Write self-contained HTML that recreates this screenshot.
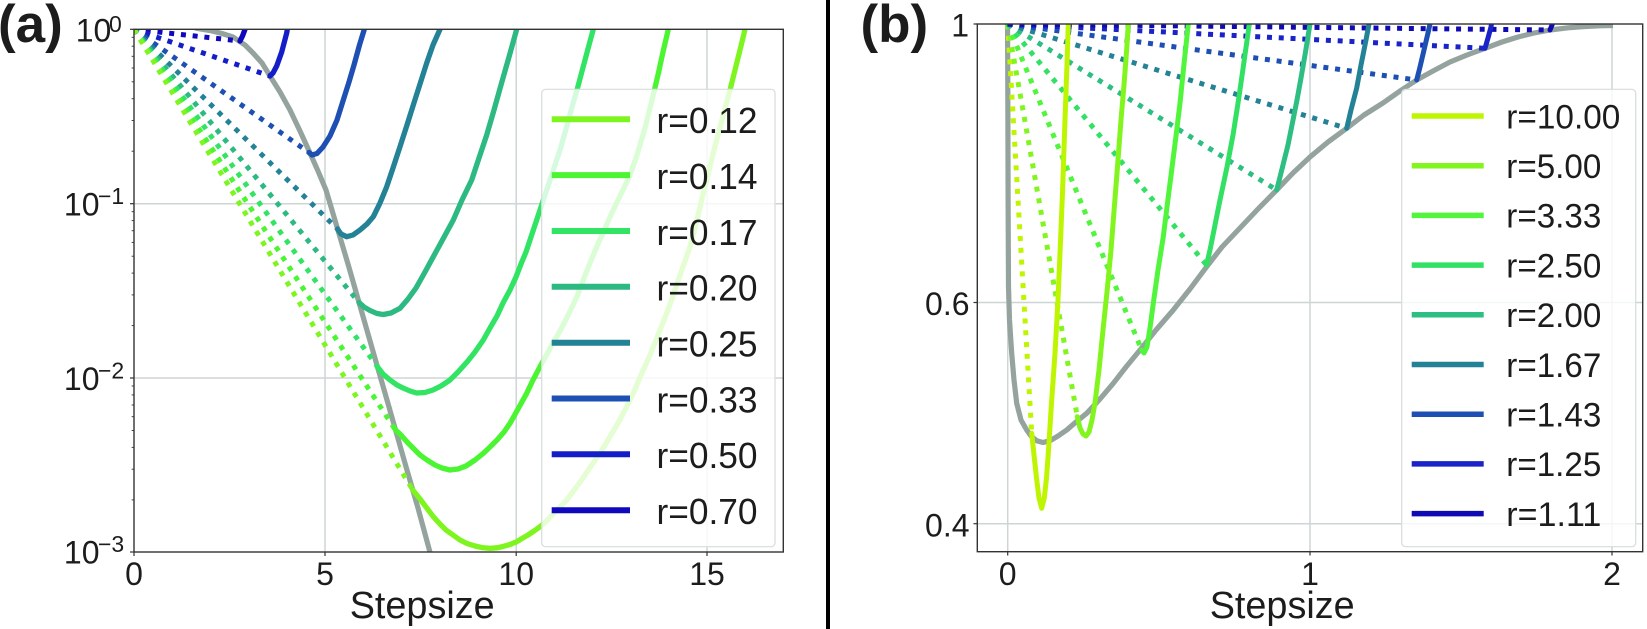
<!DOCTYPE html>
<html>
<head>
<meta charset="utf-8">
<style>
  html, body { margin: 0; padding: 0; background: #ffffff; }
  svg { display: block; }
  text { font-family: "Liberation Sans", "DejaVu Sans", sans-serif; fill: #1c1c1c; }
</style>
</head>
<body>
<svg width="1647" height="629" viewBox="0 0 1647 629" xmlns="http://www.w3.org/2000/svg">
  <defs>
    <clipPath id="clipA"><rect x="134" y="29.3" width="649.3" height="522.7"/></clipPath>
    <clipPath id="clipB"><rect x="977.3" y="24" width="665.4" height="527.7"/></clipPath>
  </defs>
  <rect x="0" y="0" width="1647" height="629" fill="#ffffff"/>

  <!-- ================= PANEL A ================= -->
  <g stroke="#cdd5d5" stroke-width="1.5" fill="none">
    <line x1="325" y1="29.3" x2="325" y2="552"/>
    <line x1="516.2" y1="29.3" x2="516.2" y2="552"/>
    <line x1="707" y1="29.3" x2="707" y2="552"/>
    <line x1="134" y1="203.7" x2="783.3" y2="203.7"/>
    <line x1="134" y1="378" x2="783.3" y2="378"/>
  </g>

  <g clip-path="url(#clipA)" fill="none" stroke-linejoin="round">
    <polyline stroke="#95a39e" stroke-width="5.2" points="195,28 210,30.5 222,33.5 233,37 245,45 253,53 262,63 270,76 280,92 290,110 300,131 310,153 318,171 326,190 337,227 348.8,266.7 358.3,300 377.4,366.7 387,400 396.5,433.3 406,466.7 418,508 431,556"/>
    <g stroke-width="5" stroke-dasharray="5 6.8">
      <line x1="134" y1="29.3" x2="240" y2="41" stroke="#0f08be"/>
      <line x1="134" y1="29.3" x2="270" y2="76" stroke="#141ec8"/>
      <line x1="134" y1="29.3" x2="309" y2="152.5" stroke="#1e50b4"/>
      <line x1="134" y1="29.3" x2="337.5" y2="229" stroke="#238296"/>
      <line x1="134" y1="29.3" x2="359" y2="302.5" stroke="#2db982"/>
      <line x1="134" y1="29.3" x2="377.4" y2="366.7" stroke="#32e464"/>
      <line x1="134" y1="29.3" x2="395.5" y2="430" stroke="#4bf532"/>
      <line x1="134" y1="29.3" x2="412.8" y2="490" stroke="#7ef51e"/>
    </g>
    <g stroke-width="5.3" stroke-linecap="round">
      <polyline stroke="#0f08be" points="240,41 242.5,36 245,29.3 246,25"/>
      <polyline stroke="#141ec8" points="270,76 273,73 276.7,66 281.7,52 286.7,33 288,25"/>
      <polyline stroke="#1e50b4" points="309,152.5 312,155 317,153.5 323,147 330,136 337,120 343.3,100 349,82 354,65 359.5,45 364.3,29.3 365.5,25"/>
      <polyline stroke="#238296" points="337.5,229 341,234 346.7,236.7 353,235 360,230 367,224 373.3,216.7 380,203 386.7,186.7 393,168 400,146.7 407,125 413.3,105 420,84 426.7,63 433,45 440,29.3 441.5,25"/>
      <polyline stroke="#2db982" points="359,302.5 364,307 370,310.5 377,313.5 383.3,314.5 391,313 400,308.3 408,299 416,288 425,272 433.3,256.7 443,239 453.3,220 462,200 471.7,180 479,158 486.7,135 494,110 501,85 509,57 516.7,29.3 518,25"/>
      <polyline stroke="#32e464" points="377.4,366.7 383,374 390,380 397,385 403,388 410,391 416.7,393 425,392.5 433,390 441,386 450,380 458,372 467,362 475,352 483.3,340 490,328 497,316 503,303 510,290 516,277 521,264 526,252 530,240 535,225 540,210 545,195 550,180 555,165 560,150 564,136 568,122 572,107 577,90 581,75 585,60 589,45 593.3,29.3 594.5,25"/>
      <polyline stroke="#4bf532" points="395.5,430 400,434 408,443 415,450 420,455 427,460 435,465 442,468 450,470 458,469 466,466 475,460 483.3,453.3 490,447 497,440 504,432 510,423.3 518,409 526.7,393.3 533,380 540,366.7 547,354 553,343 560,331 566.7,318 573,305 578,294 584,278 590,263 597,246 604,231 610,217 617,202 623,190 630,175 637,155 645,128 652,100 658,75 663,52 668.3,29.3 669.5,25"/>
      <polyline stroke="#7ef51e" points="412.8,490 416,494 420,499 426,507 433.3,516.7 440,524 446,530 453,535 460,540 467,543.5 475,546 482,547.6 490,548.3 497,547.8 503,546.5 510,544.5 516.7,541.7 522,538.5 528,535 534,531 540,526.7 546,521.5 553,514 560,507 566.7,500 575,489 583,478 591,466 600,453.3 608,440 617,425 625,410 633.3,393.3 641,375 650,355 658,335 666.7,313.3 673,296 680,275 685,261 690,246.7 695,228 700,207 703,194 706.7,180 712,158 718,135 724,112 730,90 734,74 738,58 741.5,44 745,29.3 746,25"/>
    </g>
  </g>

  <!-- legend A -->
  <rect x="541.7" y="89.3" width="233.3" height="457.4" rx="4" ry="4" fill="#ffffff" fill-opacity="0.8" stroke="#d6dddd" stroke-width="1.2"/>
  <g stroke-width="6" fill="none">
    <line x1="551.7" y1="119.3" x2="630" y2="119.3" stroke="#7ef51e"/>
    <line x1="551.7" y1="175.1" x2="630" y2="175.1" stroke="#4bf532"/>
    <line x1="551.7" y1="231" x2="630" y2="231" stroke="#32e464"/>
    <line x1="551.7" y1="286.8" x2="630" y2="286.8" stroke="#2db982"/>
    <line x1="551.7" y1="342.7" x2="630" y2="342.7" stroke="#238296"/>
    <line x1="551.7" y1="398.5" x2="630" y2="398.5" stroke="#1e50b4"/>
    <line x1="551.7" y1="454.3" x2="630" y2="454.3" stroke="#141ec8"/>
    <line x1="551.7" y1="510.2" x2="630" y2="510.2" stroke="#0f08be"/>
  </g>
  <g font-size="36">
    <text x="656.5" y="133.2" textLength="101" lengthAdjust="spacingAndGlyphs">r=0.12</text>
    <text x="656.5" y="189" textLength="101" lengthAdjust="spacingAndGlyphs">r=0.14</text>
    <text x="656.5" y="244.9" textLength="101" lengthAdjust="spacingAndGlyphs">r=0.17</text>
    <text x="656.5" y="300.7" textLength="101" lengthAdjust="spacingAndGlyphs">r=0.20</text>
    <text x="656.5" y="356.6" textLength="101" lengthAdjust="spacingAndGlyphs">r=0.25</text>
    <text x="656.5" y="412.4" textLength="101" lengthAdjust="spacingAndGlyphs">r=0.33</text>
    <text x="656.5" y="468.2" textLength="101" lengthAdjust="spacingAndGlyphs">r=0.50</text>
    <text x="656.5" y="524.1" textLength="101" lengthAdjust="spacingAndGlyphs">r=0.70</text>
  </g>

  <rect x="134" y="29.3" width="649.3" height="522.7" fill="none" stroke="#333333" stroke-width="1.4"/>
  <g stroke="#333333" stroke-width="1.2">
    <line x1="134" y1="552" x2="134" y2="556"/>
    <line x1="325" y1="552" x2="325" y2="556"/>
    <line x1="516.2" y1="552" x2="516.2" y2="556"/>
    <line x1="707" y1="552" x2="707" y2="556"/>
    <line x1="130" y1="29.3" x2="134" y2="29.3"/>
    <line x1="130" y1="203.7" x2="134" y2="203.7"/>
    <line x1="130" y1="378" x2="134" y2="378"/>
    <line x1="130" y1="552" x2="134" y2="552"/>
  </g>
  <g stroke="#333333" stroke-width="0.9">
    <line x1="131.6" y1="37.3" x2="134" y2="37.3"/><line x1="131.6" y1="46.2" x2="134" y2="46.2"/>
    <line x1="131.6" y1="56.3" x2="134" y2="56.3"/><line x1="131.6" y1="68" x2="134" y2="68"/>
    <line x1="131.6" y1="81.8" x2="134" y2="81.8"/><line x1="131.6" y1="98.7" x2="134" y2="98.7"/>
    <line x1="131.6" y1="120.5" x2="134" y2="120.5"/><line x1="131.6" y1="151.2" x2="134" y2="151.2"/>
    <line x1="131.6" y1="211.7" x2="134" y2="211.7"/><line x1="131.6" y1="220.6" x2="134" y2="220.6"/>
    <line x1="131.6" y1="230.7" x2="134" y2="230.7"/><line x1="131.6" y1="242.4" x2="134" y2="242.4"/>
    <line x1="131.6" y1="256.2" x2="134" y2="256.2"/><line x1="131.6" y1="273.1" x2="134" y2="273.1"/>
    <line x1="131.6" y1="294.9" x2="134" y2="294.9"/><line x1="131.6" y1="325.6" x2="134" y2="325.6"/>
    <line x1="131.6" y1="386" x2="134" y2="386"/><line x1="131.6" y1="394.9" x2="134" y2="394.9"/>
    <line x1="131.6" y1="405" x2="134" y2="405"/><line x1="131.6" y1="416.7" x2="134" y2="416.7"/>
    <line x1="131.6" y1="430.5" x2="134" y2="430.5"/><line x1="131.6" y1="447.4" x2="134" y2="447.4"/>
    <line x1="131.6" y1="469.2" x2="134" y2="469.2"/><line x1="131.6" y1="499.9" x2="134" y2="499.9"/>
  </g>
  <g font-size="32">
    <text x="134" y="585" text-anchor="middle">0</text>
    <text x="325" y="585" text-anchor="middle">5</text>
    <text x="516.2" y="585" text-anchor="middle">10</text>
    <text x="707" y="585" text-anchor="middle">15</text>
    <text x="111.3" y="41.5" text-anchor="end">10</text>
    <text x="99.5" y="215.7" text-anchor="end">10</text>
    <text x="99.5" y="390" text-anchor="end">10</text>
    <text x="99.5" y="563.7" text-anchor="end">10</text>
  </g>
  <g font-size="23">
    <text x="109" y="32">0</text>
    <text x="98" y="204">−1</text>
    <text x="98" y="378.3">−2</text>
    <text x="98" y="552">−3</text>
  </g>
  <text x="349.7" y="618" font-size="38" textLength="145" lengthAdjust="spacingAndGlyphs">Stepsize</text>
  <text x="-2" y="42" font-size="53" font-weight="bold" fill="#000000">(a)</text>

  <rect x="826" y="0" width="4" height="629" fill="#000000"/>

  <!-- ================= PANEL B ================= -->
  <g stroke="#cdd5d5" stroke-width="1.5" fill="none">
    <line x1="1007.7" y1="24" x2="1007.7" y2="551.7"/>
    <line x1="1310" y1="24" x2="1310" y2="551.7"/>
    <line x1="1612" y1="24" x2="1612" y2="551.7"/>
    <line x1="977.3" y1="302.5" x2="1642.7" y2="302.5"/>
    <line x1="977.3" y1="523.7" x2="1642.7" y2="523.7"/>
  </g>

  <g clip-path="url(#clipB)" fill="none" stroke-linejoin="round">
    <polyline stroke="#95a39e" stroke-width="5.2" points="1007.5,20 1007.7,60 1007.9,120 1008.1,200 1008.5,286.7 1009.5,320 1011.7,353.3 1014,380 1016.7,403.3 1021,420 1026.7,430 1031,436 1036.7,440.7 1043,442.5 1050,440.7 1058,436 1066.7,430 1076,422 1086.7,413.3 1100,399 1113.3,383.3 1126,367 1140,350 1156,330 1173.3,310 1190,289 1206.7,266.7 1222,247 1240,228 1258,209 1276.7,190 1293,173 1310,157 1328,142 1346.7,128.3 1364,115 1383,103 1400,91 1416.7,80 1433,71 1450,62 1467,55 1485,48.3 1502,42 1518,37 1534,33 1550,30 1568,27.8 1585,26.5 1600,25.8 1613,25.5"/>
    <g stroke-width="5" stroke-dasharray="5 6.8">
      <line x1="1007.7" y1="24" x2="1031.7" y2="433.3" stroke="#bef500"/>
      <line x1="1007.7" y1="24" x2="1077.3" y2="416.7" stroke="#82f51e"/>
      <line x1="1007.7" y1="24" x2="1141.7" y2="350" stroke="#50f53c"/>
      <line x1="1007.7" y1="24" x2="1206.5" y2="265" stroke="#32e164"/>
      <line x1="1007.7" y1="24" x2="1276.7" y2="190" stroke="#2dbe82"/>
      <line x1="1007.7" y1="24" x2="1346.7" y2="128.3" stroke="#238296"/>
      <line x1="1007.7" y1="24" x2="1416.7" y2="80" stroke="#1e50b4"/>
      <line x1="1007.7" y1="24" x2="1485" y2="48.3" stroke="#1923c8"/>
      <line x1="1007.7" y1="24" x2="1550" y2="30" stroke="#0f0ab4"/>
    </g>
    <g stroke-width="5" stroke-linecap="round">
      <polyline stroke="#bef500" points="1031.7,433.3 1034,455 1036.5,478 1039,498 1041.7,508.3 1044.3,498 1046.5,478 1048.3,453.3 1051.5,403 1055,353.3 1058,300 1060,253.3 1062.6,190 1065,120 1066.8,70 1068.3,24 1068.5,20"/>
      <polyline stroke="#82f51e" points="1077.3,416.7 1080,428 1083,434 1086,436 1089,432 1092,420 1095,403 1099,370 1103,330 1107,292 1111,250 1114.5,205 1118,160 1121,120 1124,85 1126.5,52 1128.3,24 1128.6,20"/>
      <polyline stroke="#50f53c" points="1141.7,350 1144,353 1147,347 1150,328 1153.3,303.3 1158,270 1163.3,236.7 1167.5,203 1171.7,170 1176,136 1180,103.3 1184,64 1188.3,24 1188.7,20"/>
      <polyline stroke="#32e164" points="1206.5,265 1210,250 1215,225 1220,200 1227,167 1233.3,133.3 1238.5,100 1243.3,66.7 1246.5,44 1249.3,24 1249.6,20"/>
      <polyline stroke="#2dbe82" points="1276.7,190 1280,177 1283,165 1288,145 1292,125 1297,100 1301,78 1305.5,52 1310,24 1310.5,20"/>
      <polyline stroke="#238296" points="1346.7,128.3 1351,110 1356.7,88 1361,65 1366,40 1369,24 1369.5,20"/>
      <polyline stroke="#1e50b4" points="1416.7,80 1420,67 1424,50 1428,33 1430,24 1430.5,20"/>
      <polyline stroke="#1923c8" points="1485,48.3 1488,38 1491,27 1492,20"/>
      <polyline stroke="#0f0ab4" points="1550,30 1552,25 1553.5,20"/>
    </g>
  </g>

  <rect x="1401.7" y="89.3" width="234" height="457.4" rx="4" ry="4" fill="#ffffff" fill-opacity="0.8" stroke="#d6dddd" stroke-width="1.2"/>
  <g stroke-width="5.5" fill="none">
    <line x1="1411.7" y1="116" x2="1483.7" y2="116" stroke="#bef500"/>
    <line x1="1411.7" y1="165.7" x2="1483.7" y2="165.7" stroke="#82f51e"/>
    <line x1="1411.7" y1="215.4" x2="1483.7" y2="215.4" stroke="#50f53c"/>
    <line x1="1411.7" y1="265.1" x2="1483.7" y2="265.1" stroke="#32e164"/>
    <line x1="1411.7" y1="314.8" x2="1483.7" y2="314.8" stroke="#2dbe82"/>
    <line x1="1411.7" y1="364.5" x2="1483.7" y2="364.5" stroke="#238296"/>
    <line x1="1411.7" y1="414.2" x2="1483.7" y2="414.2" stroke="#1e50b4"/>
    <line x1="1411.7" y1="463.9" x2="1483.7" y2="463.9" stroke="#1923c8"/>
    <line x1="1411.7" y1="513.6" x2="1483.7" y2="513.6" stroke="#0f0ab4"/>
  </g>
  <g font-size="34">
    <text x="1506.3" y="128.3" textLength="114" lengthAdjust="spacingAndGlyphs">r=10.00</text>
    <text x="1506.3" y="178" textLength="95" lengthAdjust="spacingAndGlyphs">r=5.00</text>
    <text x="1506.3" y="227.7" textLength="95" lengthAdjust="spacingAndGlyphs">r=3.33</text>
    <text x="1506.3" y="277.4" textLength="95" lengthAdjust="spacingAndGlyphs">r=2.50</text>
    <text x="1506.3" y="327.1" textLength="95" lengthAdjust="spacingAndGlyphs">r=2.00</text>
    <text x="1506.3" y="376.8" textLength="95" lengthAdjust="spacingAndGlyphs">r=1.67</text>
    <text x="1506.3" y="426.5" textLength="95" lengthAdjust="spacingAndGlyphs">r=1.43</text>
    <text x="1506.3" y="476.2" textLength="95" lengthAdjust="spacingAndGlyphs">r=1.25</text>
    <text x="1506.3" y="525.9" textLength="95" lengthAdjust="spacingAndGlyphs">r=1.11</text>
  </g>

  <rect x="977.3" y="24" width="665.4" height="527.7" fill="none" stroke="#333333" stroke-width="1.4"/>
  <g stroke="#333333" stroke-width="1.2">
    <line x1="1007.7" y1="551.7" x2="1007.7" y2="555.5"/>
    <line x1="1310" y1="551.7" x2="1310" y2="555.5"/>
    <line x1="1612" y1="551.7" x2="1612" y2="555.5"/>
    <line x1="973.5" y1="24" x2="977.3" y2="24"/>
    <line x1="973.5" y1="302.5" x2="977.3" y2="302.5"/>
    <line x1="973.5" y1="523.7" x2="977.3" y2="523.7"/>
  </g>
  <g font-size="32">
    <text x="1007.7" y="585" text-anchor="middle">0</text>
    <text x="1310" y="585" text-anchor="middle">1</text>
    <text x="1612" y="585" text-anchor="middle">2</text>
    <text x="969" y="36.7" text-anchor="end">1</text>
    <text x="969.5" y="315" text-anchor="end">0.6</text>
    <text x="969.5" y="536.7" text-anchor="end">0.4</text>
  </g>
  <text x="1209.7" y="618" font-size="38" textLength="145" lengthAdjust="spacingAndGlyphs">Stepsize</text>
  <text x="860.5" y="42" font-size="53" font-weight="bold" fill="#000000">(b)</text>
</svg>
</body>
</html>
